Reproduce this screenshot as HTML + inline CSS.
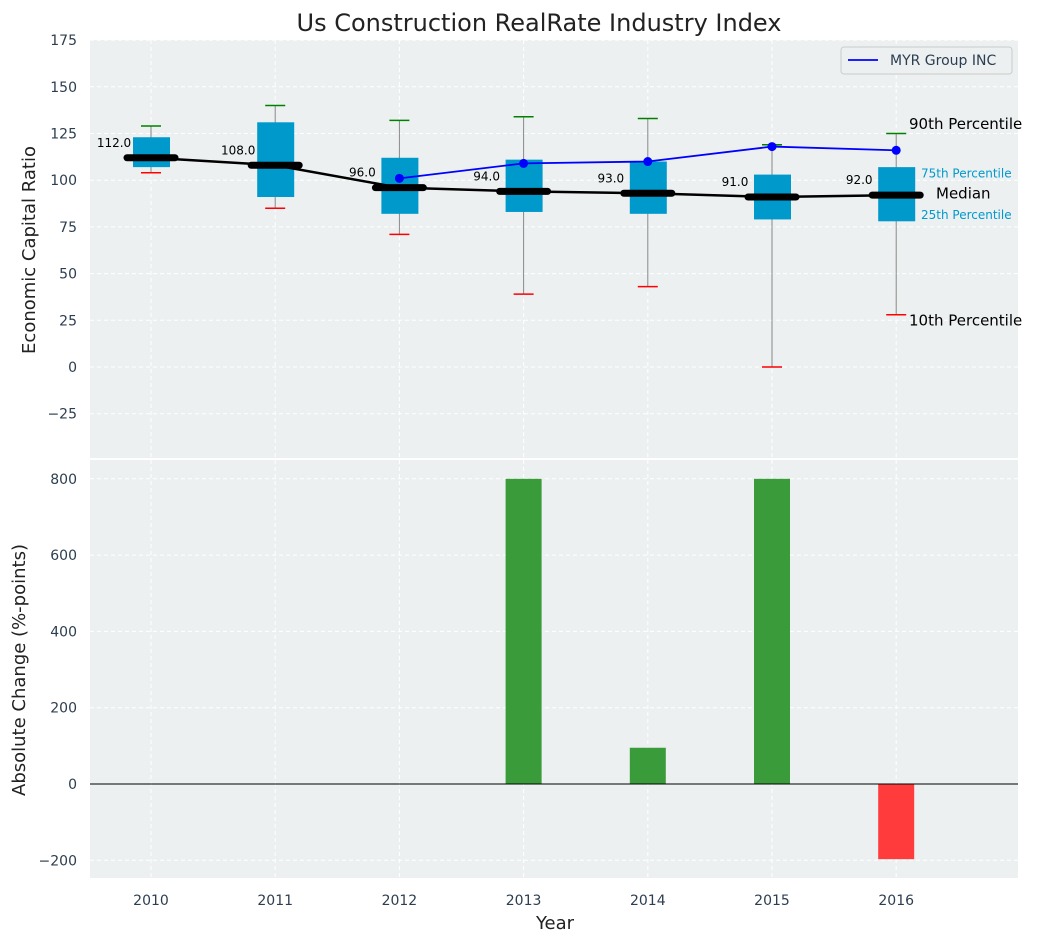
<!DOCTYPE html>
<html><head><meta charset="utf-8"><style>
body{margin:0;background:#fff;font-family:"Liberation Sans","DejaVu Sans",sans-serif}
svg text{font-family:"DejaVu Sans","Liberation Sans",sans-serif}
</style></head><body>
<svg id="c" width="1044" height="942" xmlns="http://www.w3.org/2000/svg"></svg>
<script>
const years=[2010,2011,2012,2013,2014,2015,2016];
const q1=[107,91,82,83,82,79,78];
const q3=[123,131,112,111,110,103,107];
const p10=[104,85,71,39,43,0,28];
const p90=[129,140,132,134,133,119,125];
const medians=[112,108,96,94,93,91,92];
const myrYears=[2012,2013,2014,2015,2016];
const myrVals=[101,109,110,118,116];
const changeYears=[2013,2014,2015,2016];
const changeVals=[800,95,800,-197];
const topTicks=[175,150,125,100,75,50,25,0,-25];
const botTicks=[800,600,400,200,0,-200];

const svg=document.getElementById('c');const NS='http://www.w3.org/2000/svg';
function el(t,a,txt){const e=document.createElementNS(NS,t);for(const k in a)e.setAttribute(k,a[k]);if(txt!==undefined)e.textContent=txt;svg.appendChild(e);return e;}
const L=90,R=1018;
const x=i=>151+(i)*124.2;
const xy=y=>x(y-2010);
const T0=40,T1=458,yT=v=>367-(v)*(46.7/25);
const B0=460,B1=878,yB=v=>784-v*(76.3/200);

let e;
e=el('rect',{x:L,y:T0,width:R-L,height:T1-T0,fill:'#ecf0f1'});

e=el('rect',{x:L,y:B0,width:R-L,height:B1-B0,fill:'#ecf0f1'});

years.forEach((yr,i)=>{
 el('line',{x1:x(i),x2:x(i),y1:T0,y2:T1,stroke:'#fff','stroke-dasharray':'4,3','stroke-width':1});
 el('line',{x1:x(i),x2:x(i),y1:B0,y2:B1,stroke:'#fff','stroke-dasharray':'4,3','stroke-width':1});
 e=el('text',{x:x(i),y:905,'text-anchor':'middle','font-size':14,fill:'#2c3e50'},yr);
 
});
topTicks.forEach(v=>{
 el('line',{x1:L,x2:R,y1:yT(v),y2:yT(v),stroke:'#fff','stroke-dasharray':'4,3'});
 e=el('text',{x:77,y:yT(v)+5,'text-anchor':'end','font-size':14,fill:'#2c3e50'},v<0?'\u2212'+(-v):v);
 
});
botTicks.forEach(v=>{
 el('line',{x1:L,x2:R,y1:yB(v),y2:yB(v),stroke:'#fff','stroke-dasharray':'4,3'});
 e=el('text',{x:77,y:yB(v)+5,'text-anchor':'end','font-size':14,fill:'#2c3e50'},v<0?'\u2212'+(-v):v);
 
});
years.forEach((yr,i)=>{
 const cx=x(i);
 el('line',{x1:cx,x2:cx,y1:yT(p90[i]),y2:yT(p10[i]),stroke:'#888','stroke-width':1});
 e=el('rect',{x:cx-18,y:yT(q3[i]),width:37,height:yT(q1[i])-yT(q3[i]),fill:'#0099cc'});
 
 el('line',{x1:cx-10,x2:cx+10,y1:yT(p90[i]),y2:yT(p90[i]),stroke:'green','stroke-width':1.5});
 el('line',{x1:cx-10,x2:cx+10,y1:yT(p10[i]),y2:yT(p10[i]),stroke:'red','stroke-width':1.5});
});
e=el('polyline',{points:medians.map((m,i)=>x(i)+','+yT(m)).join(' '),fill:'none',stroke:'#000','stroke-width':2.5});

medians.forEach((m,i)=>{
 e=el('line',{x1:x(i)-24,x2:x(i)+24,y1:yT(m),y2:yT(m),stroke:'#000','stroke-width':7,'stroke-linecap':'round'});
 
 e=el('text',{x:x(i)-37,y:yT(m)-11,'text-anchor':'middle','font-size':12,fill:'#000'},m.toFixed(1));
 
});
e=el('polyline',{points:myrVals.map((v,i)=>xy(myrYears[i])+','+yT(v)).join(' '),fill:'none',stroke:'blue','stroke-width':1.8});

myrVals.forEach((v,i)=>{e=el('circle',{cx:xy(myrYears[i]),cy:yT(v),r:4.5,fill:'blue'});
 });
const li=6;
[['90th Percentile',p90[li]+5,15,'#000',909],['75th Percentile',q3[li]-3,12,'#0099cc',921],['Median',medians[li]+1,15,'#000',936],['25th Percentile',q1[li]+4,12,'#0099cc',921],['10th Percentile',p10[li]-3,15,'#000',909]].forEach(a=>{
 e=el('text',{x:a[4],y:yT(a[1])+5,'font-size':a[2],fill:a[3]},a[0]);
 
});
e=el('rect',{x:841,y:47,width:171,height:27,fill:'#ecf0f1',stroke:'#ccc',rx:3});

el('line',{x1:848,x2:878,y1:60,y2:60,stroke:'blue','stroke-width':1.8});
e=el('text',{x:890,y:65,'font-size':14,fill:'#2c3e50'},'MYR Group INC');

changeVals.forEach((v,i)=>{
 const cx=xy(changeYears[i]);
 e=el('rect',{x:cx-18,y:Math.min(yB(v),yB(0)),width:36,height:Math.abs(yB(v)-yB(0)),fill:v>=0?'#3a9b3a':'#ff3b3b'});
 
});
el('line',{x1:L,x2:R,y1:yB(0),y2:yB(0),stroke:'#000','stroke-width':1});
e=el('text',{x:539,y:31,'text-anchor':'middle','font-size':24,fill:'#222'},'Us Construction RealRate Industry Index');

e=el('text',{x:555,y:929,'text-anchor':'middle','font-size':18,fill:'#222'},'Year');

e=el('text',{x:35,y:250,'text-anchor':'middle','font-size':18,fill:'#222',transform:'rotate(-90 35 250)'},'Economic Capital Ratio');

e=el('text',{x:25,y:670,'text-anchor':'middle','font-size':18,fill:'#222',transform:'rotate(-90 25 670)'},'Absolute Change (%-points)');

</script></body></html>
